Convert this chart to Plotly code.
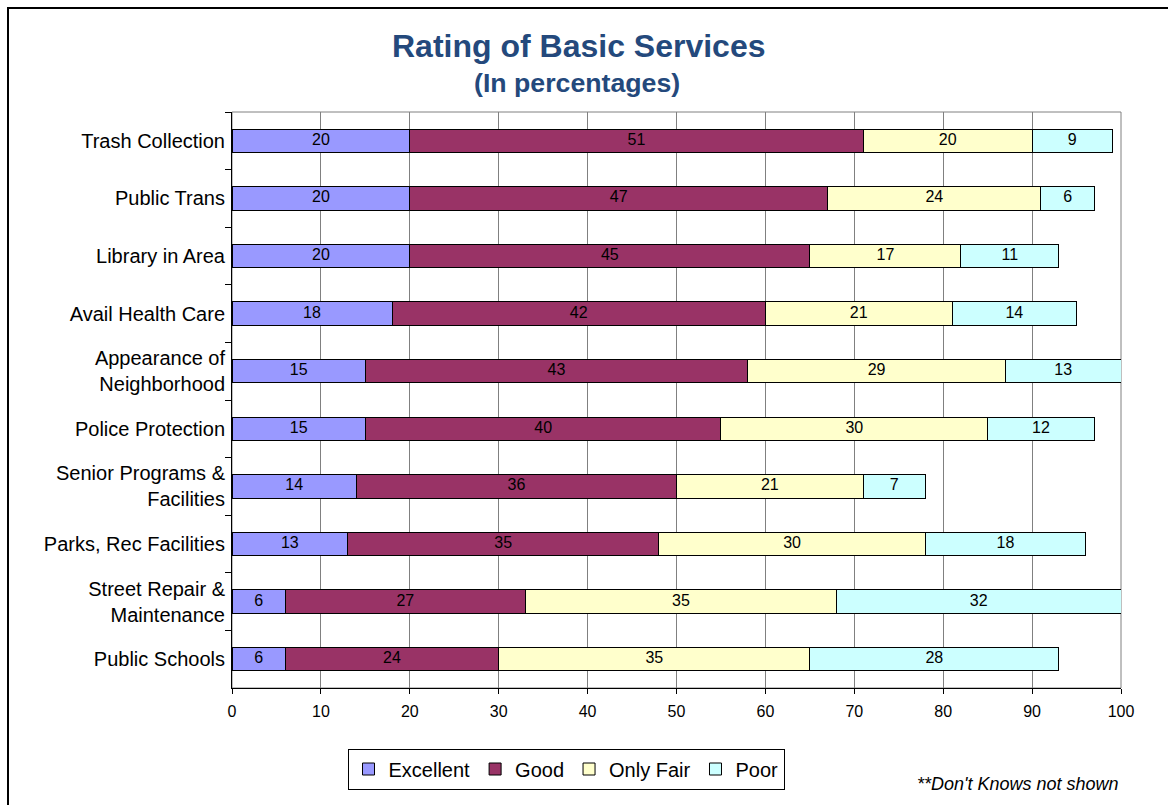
import plotly.graph_objects as go

categories = [
    "Trash Collection",
    "Public Trans",
    "Library in Area",
    "Avail Health Care",
    "Appearance of<br>Neighborhood",
    "Police Protection",
    "Senior Programs &<br>Facilities",
    "Parks, Rec Facilities",
    "Street Repair &<br>Maintenance",
    "Public Schools",
]

series_names = ["Excellent", "Good", "Only Fair", "Poor"]

# bar lengths
excellent = [20, 20, 20, 18, 15, 15, 14, 13, 6, 6]
good = [51, 47, 45, 42, 43, 40, 36, 35, 27, 24]
only_fair = [19, 24, 17, 21, 29, 30, 21, 30, 35, 35]
poor = [9, 6, 11, 14, 13, 12, 7, 18, 32, 28]

# data labels as printed on the bars
excellent_labels = [20, 20, 20, 18, 15, 15, 14, 13, 6, 6]
good_labels = [51, 47, 45, 42, 43, 40, 36, 35, 27, 24]
only_fair_labels = [20, 24, 17, 21, 29, 30, 21, 30, 35, 35]
poor_labels = [9, 6, 11, 14, 13, 12, 7, 18, 32, 28]

x_ticks = [0, 10, 20, 30, 40, 50, 60, 70, 80, 90, 100]

colors = ["#9999FF", "#993366", "#FFFFCC", "#CCFFFF"]
FONT = "Liberation Sans, Arial, sans-serif"

values = [excellent, good, only_fair, poor]
labels = [excellent_labels, good_labels, only_fair_labels, poor_labels]

fig = go.Figure()
for name, vals, col in zip(series_names, values, colors):
    fig.add_trace(go.Bar(
        y=categories,
        x=vals,
        name=name,
        orientation="h",
        marker=dict(color=col, line=dict(color="#000000", width=1)),
        textposition="none",
        hoverinfo="x+y+name",
    ))

# data labels centred in each segment (positions derived from the data)
base = [0] * len(categories)
for name, vals, labs in zip(series_names, values, labels):
    mids = [b + v / 2 for b, v in zip(base, vals)]
    fig.add_trace(go.Scatter(
        x=mids, y=categories, mode="text",
        text=[str(l) for l in labs],
        textposition="middle center",
        textfont=dict(family=FONT, size=16, color="#000000"),
        showlegend=False, hoverinfo="skip",
    ))
    base = [b + v for b, v in zip(base, vals)]

# plot area: x 232..1121, y 112..688
L, R, T, B = 232, 47, 112, 117
PW, PH = 1168 - L - R, 805 - T - B


def px(xp):
    return (xp - L) / PW


def py(yp):
    return (805 - B - yp) / PH


fig.update_layout(
    width=1168,
    height=805,
    barmode="stack",
    bargap=0.594,
    paper_bgcolor="white",
    plot_bgcolor="white",
    margin=dict(l=L, r=R, t=T, b=B, pad=0),
    font=dict(family=FONT, color="#000000"),
    showlegend=True,
    legend=dict(
        orientation="h",
        x=px(566), xanchor="center",
        y=py(769), yanchor="middle",
        bordercolor="#000000", borderwidth=1,
        bgcolor="white",
        font=dict(family=FONT, size=20, color="#000000"),
        traceorder="normal",
        itemclick=False,
        itemwidth=30,
    ),
    xaxis=dict(
        range=[0, 100],
        tickvals=x_ticks,
        ticktext=[str(t) for t in x_ticks],
        showgrid=True, gridcolor="#808080", gridwidth=1,
        zeroline=False,
        showline=True, linecolor="#000000", linewidth=1,
        ticks="outside", ticklen=5, tickcolor="#000000",
        ticklabelstandoff=4,
        tickfont=dict(family=FONT, size=16, color="#000000"),
        fixedrange=True,
    ),
    yaxis=dict(
        autorange="reversed",
        showgrid=False,
        zeroline=False,
        showline=True, linecolor="#000000", linewidth=1,
        ticks="outside", ticklen=6, tickcolor="#000000",
        tickson="boundaries",
        ticklabelstandoff=2,
        tickfont=dict(family=FONT, size=20, color="#000000"),
        fixedrange=True,
    ),
    shapes=[
        dict(type="rect", xref="paper", yref="paper", x0=0, x1=1, y0=0, y1=1,
             line=dict(color="#808080", width=1), layer="below"),
        dict(type="rect", xref="paper", yref="paper",
             x0=px(8), x1=px(1200), y0=py(840), y1=py(8),
             line=dict(color="#000000", width=2), fillcolor="rgba(0,0,0,0)"),
    ],
    annotations=[
        dict(text="<b>Rating of Basic Services</b>", xref="paper", yref="paper",
             x=px(578), y=py(46), xanchor="center", yanchor="middle", showarrow=False,
             font=dict(family=FONT, size=32, color="#24497C")),
        dict(text="<b>(In percentages)</b>", xref="paper", yref="paper",
             x=px(577), y=py(83), xanchor="center", yanchor="middle", showarrow=False,
             font=dict(family=FONT, size=26.7, color="#24497C")),
        dict(text="<i>**Don't Knows not shown</i>", xref="paper", yref="paper",
             x=px(1121), y=py(784), xanchor="right", yanchor="middle", showarrow=False,
             font=dict(family=FONT, size=18, color="#000000")),
    ],
)

fig.write_html("out.html", config={"displayModeBar": False},
               post_script="document.body.style.margin='0';")
